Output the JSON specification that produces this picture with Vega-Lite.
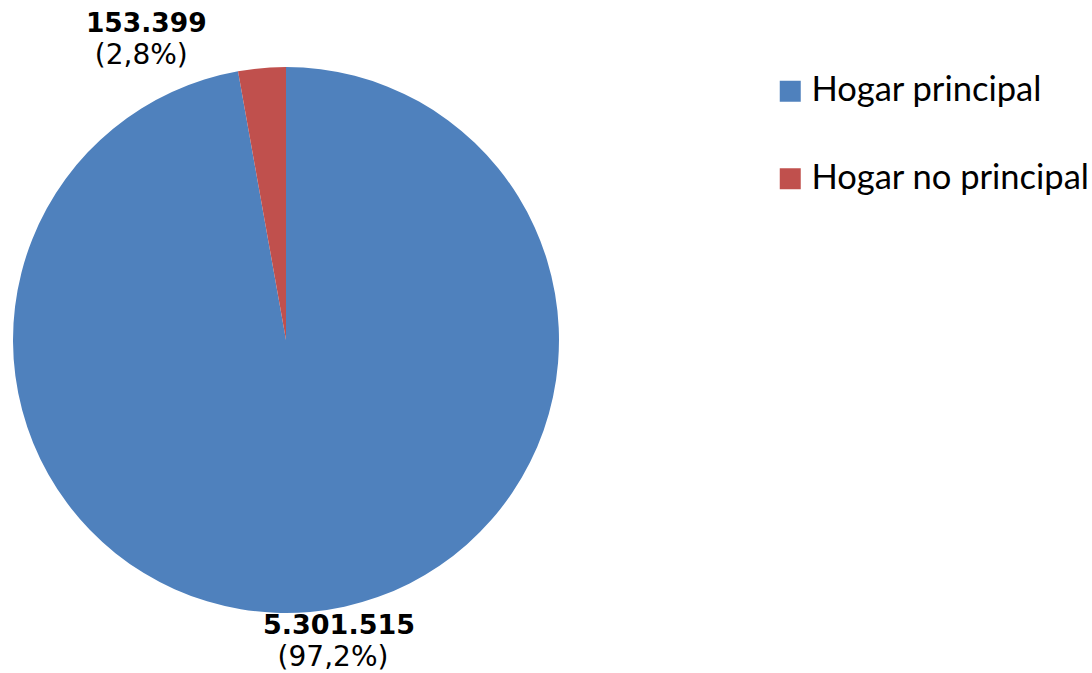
{
  "$schema": "https://vega.github.io/schema/vega-lite/v6.json",
  "width": 572,
  "height": 600,
  "autosize": {"type": "none"},
  "padding": {"left": 0, "top": 40, "right": 520, "bottom": 33},
  "background": "white",
  "config": {"view": {"stroke": null}},
  "data": {
    "values": [
      {"categoria": "Hogar principal", "valor": 5301515, "orden": 1, "cifra": "5.301.515", "pct": "(97,2%)"},
      {"categoria": "Hogar no principal", "valor": 153399, "orden": 2, "cifra": "153.399", "pct": "(2,8%)"}
    ]
  },
  "layer": [
    {
      "mark": {"type": "arc", "outerRadius": 273},
      "encoding": {
        "theta": {"field": "valor", "type": "quantitative", "stack": true},
        "order": {"field": "orden", "type": "quantitative"},
        "color": {
          "field": "categoria",
          "type": "nominal",
          "scale": {"domain": ["Hogar principal", "Hogar no principal"], "range": ["#4F81BD", "#C0504D"]},
          "legend": {
            "orient": "none",
            "legendX": 773,
            "legendY": 34,
            "title": null,
            "symbolType": "square",
            "symbolSize": 441,
            "symbolStrokeWidth": 0,
            "labelFont": "Lato",
            "labelFontSize": 34.5,
            "labelColor": "black",
            "labelOffset": 4,
            "rowPadding": 52.5,
            "labelLimit": 400
          }
        }
      }
    },
    {
      "transform": [
        {"stack": "valor", "groupby": [], "sort": [{"field": "orden"}], "as": ["v0", "v1"]},
        {"filter": "datum.orden == 2"}
      ],
      "mark": {"type": "text", "font": "DejaVu Sans", "fontSize": 26.5, "fontWeight": "bold", "color": "black", "radius": 300, "dx": -87, "dy": -21, "align": "center", "baseline": "middle"},
      "encoding": {
        "theta": {"field": "v0", "type": "quantitative", "stack": null},
        "text": {"field": "cifra"}
      }
    },
    {
      "transform": [
        {"stack": "valor", "groupby": [], "sort": [{"field": "orden"}], "as": ["v0", "v1"]},
        {"filter": "datum.orden == 2"}
      ],
      "mark": {"type": "text", "font": "DejaVu Sans", "fontSize": 28, "color": "black", "radius": 300, "dx": -92, "dy": 11, "align": "center", "baseline": "middle"},
      "encoding": {
        "theta": {"field": "v0", "type": "quantitative", "stack": null},
        "text": {"field": "pct"}
      }
    },
    {
      "transform": [
        {"stack": "valor", "groupby": [], "sort": [{"field": "orden"}], "as": ["v0", "v1"]},
        {"filter": "datum.orden == 1"}
      ],
      "mark": {"type": "text", "font": "DejaVu Sans", "fontSize": 27, "fontWeight": "bold", "color": "black", "radius": -290, "dx": 53, "dy": -4, "align": "center", "baseline": "middle"},
      "encoding": {
        "theta": {"field": "v0", "type": "quantitative", "stack": null},
        "text": {"field": "cifra"}
      }
    },
    {
      "transform": [
        {"stack": "valor", "groupby": [], "sort": [{"field": "orden"}], "as": ["v0", "v1"]},
        {"filter": "datum.orden == 1"}
      ],
      "mark": {"type": "text", "font": "DejaVu Sans", "fontSize": 28, "color": "black", "radius": -290, "dx": 47, "dy": 28, "align": "center", "baseline": "middle"},
      "encoding": {
        "theta": {"field": "v0", "type": "quantitative", "stack": null},
        "text": {"field": "pct"}
      }
    }
  ]
}
